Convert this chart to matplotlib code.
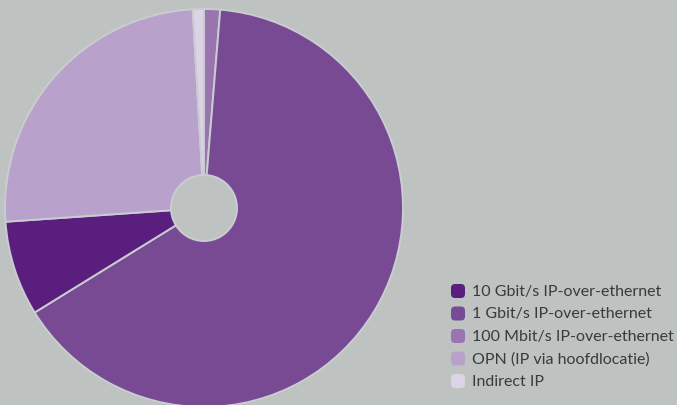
import matplotlib
matplotlib.use("Agg")
import matplotlib.pyplot as plt
from matplotlib.patches import FancyBboxPatch

categories = ["10 Gbit/s IP-over-ethernet", "1 Gbit/s IP-over-ethernet",
              "100 Mbit/s IP-over-ethernet", "OPN (IP via hoofdlocatie)", "Indirect IP"]
values = [7.7, 64.9, 1.3, 25.2, 0.9]
colors = ["#5a1f7e", "#774a93", "#9a74af", "#b8a2cc", "#dcd4e6"]
draw_order = [2, 1, 0, 3, 4]  # clockwise from 12 o'clock

bg = "#bec3c1"
W, H = 677, 406
fig = plt.figure(figsize=(W / 100, H / 100), dpi=100, facecolor=bg)

cx, cy, r = 204, 209, 199
ax = fig.add_axes([(cx - r) / W, (H - cy - r) / H, 2 * r / W, 2 * r / H])
ax.set_facecolor(bg)
hole = 33 / r
ax.pie([values[i] for i in draw_order], colors=[colors[i] for i in draw_order],
       startangle=90, counterclock=False, radius=1,
       wedgeprops=dict(width=1 - hole, edgecolor="#c9ccd0", linewidth=1.4))
ax.set_xlim(-1, 1)
ax.set_ylim(-1, 1)
ax.set_aspect("equal")
ax.axis("off")

# legend
y0, dy = 292, 22.5
for i, lab in enumerate(categories):
    yc = y0 + i * dy
    s = 14
    p = FancyBboxPatch(((451) / W, (H - yc - s / 2) / H), s / W, s / H,
                       boxstyle="round,pad=0,rounding_size=0.006",
                       transform=fig.transFigure, facecolor=colors[i],
                       edgecolor="none", mutation_aspect=W / H)
    fig.patches.append(p)
    fig.text(472 / W, (H - yc) / H, lab, fontsize=11.5, family="Lato",
             color="#3a3a3a", va="center", ha="left")

fig.savefig("out.png", dpi=100, facecolor=bg)
